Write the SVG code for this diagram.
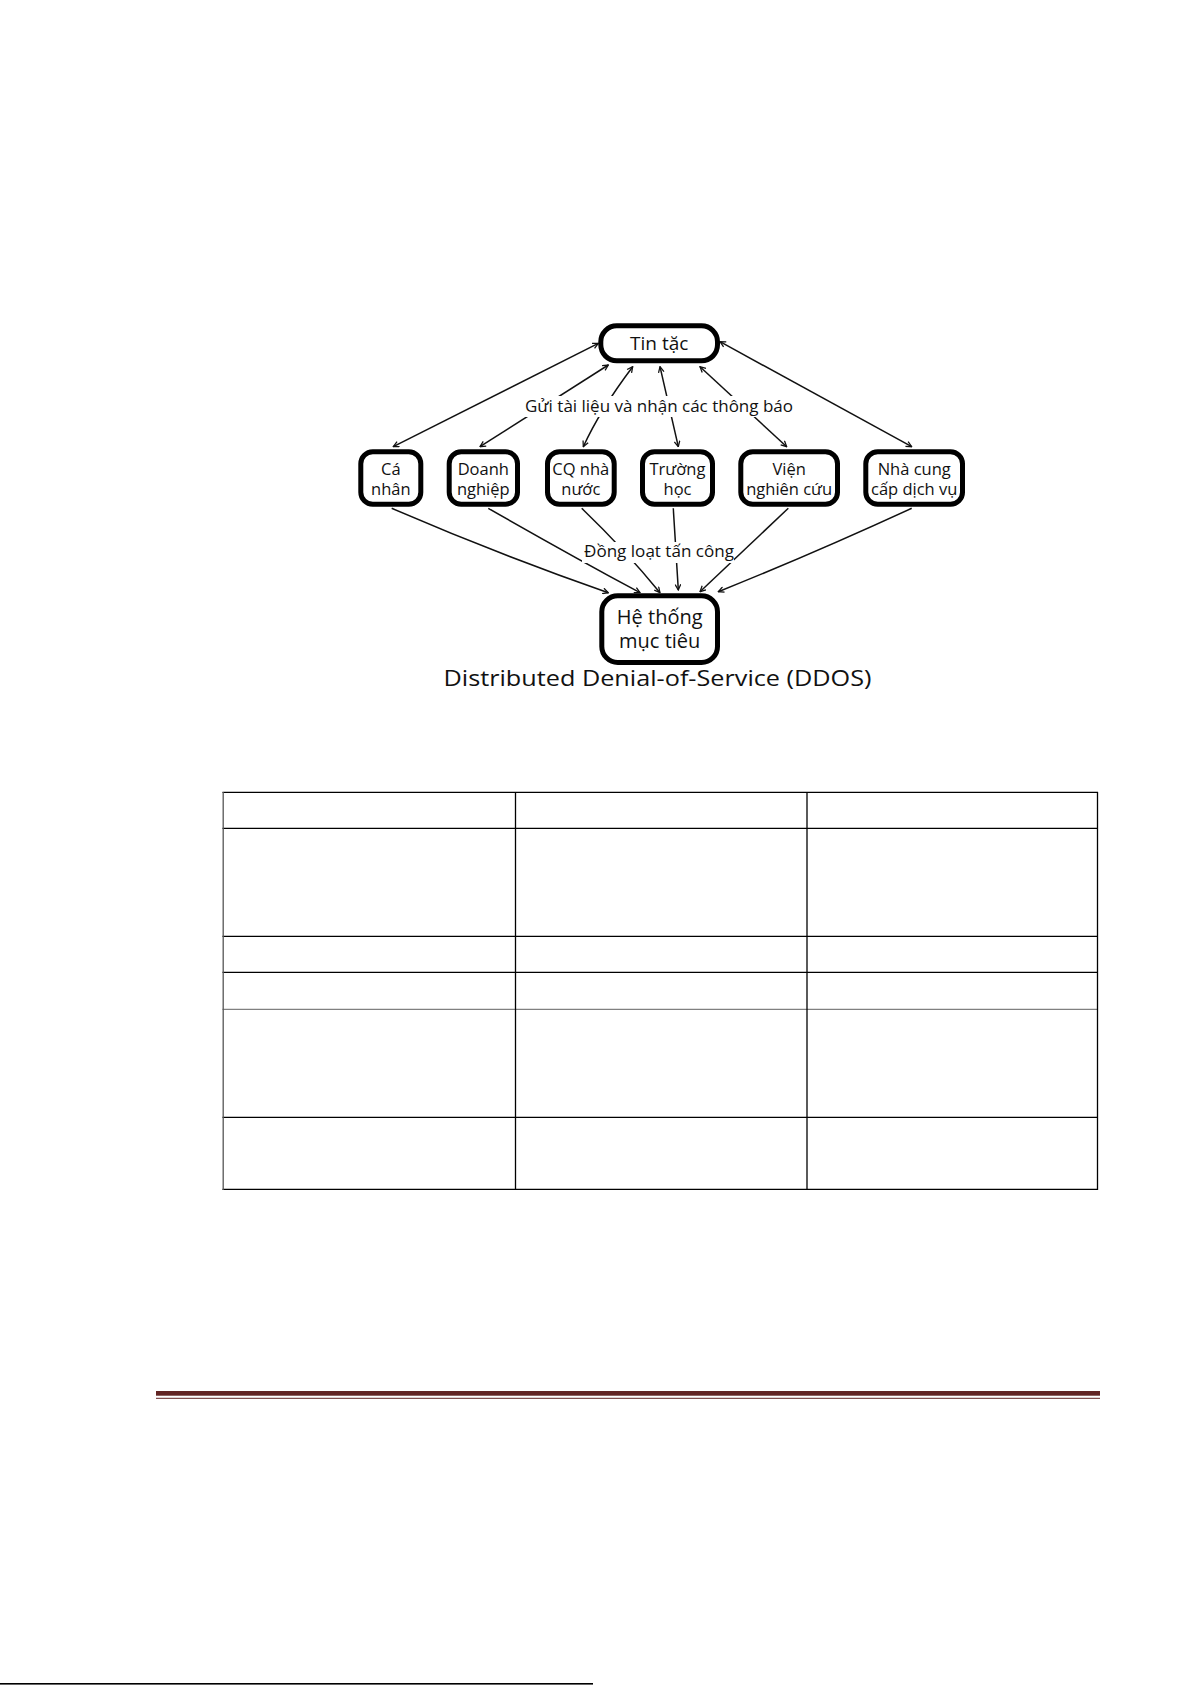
<svg xmlns="http://www.w3.org/2000/svg" width="1191" height="1685" viewBox="0 0 1191 1685">
<style>
  .box { fill: #fff; stroke: #000; stroke-width: 5; }
  .t { font-family: "Open Sans", "Noto Sans", sans-serif; fill: #111; text-anchor: middle; }
  .bt { font-size: 16.5px; }
  .conn { fill: none; stroke: #111; stroke-width: 1.5; }
  .tl { stroke: #000; stroke-width: 1.3; }
</style>
<defs>
  <marker id="ah" viewBox="0 0 10 10" refX="9" refY="5" markerWidth="7" markerHeight="7" orient="auto-start-reverse" markerUnits="userSpaceOnUse">
    <path d="M1,1 L9,5 L1,9" fill="none" stroke="#111" stroke-width="1.8"/>
  </marker>
</defs>
<rect width="1191" height="1685" fill="#fff"/>

<g id="connectors">
  <!-- Tin tac <-> row -->
  <line class="conn" x1="393.3" y1="446.7" x2="598.3" y2="343.3" marker-start="url(#ah)" marker-end="url(#ah)"/>
  <line class="conn" x1="480" y1="446.7" x2="608.3" y2="365" marker-start="url(#ah)" marker-end="url(#ah)"/>
  <path class="conn" d="M583.3,446.7 Q600,410 632.7,366.7" marker-start="url(#ah)" marker-end="url(#ah)"/>
  <line class="conn" x1="678.3" y1="446.7" x2="660" y2="366.7" marker-start="url(#ah)" marker-end="url(#ah)"/>
  <line class="conn" x1="786.7" y1="446.7" x2="700" y2="366.7" marker-start="url(#ah)" marker-end="url(#ah)"/>
  <line class="conn" x1="911.7" y1="446.7" x2="720" y2="341.7" marker-start="url(#ah)" marker-end="url(#ah)"/>
  <!-- row -> He thong -->
  <path class="conn" d="M391.7,508.3 Q500,555 608.3,592.7" marker-end="url(#ah)"/>
  <path class="conn" d="M488.3,508.3 Q570,555 640,592.7" marker-end="url(#ah)"/>
  <path class="conn" d="M581.7,508.3 Q625,550 660,592.7" marker-end="url(#ah)"/>
  <line class="conn" x1="673.3" y1="508.3" x2="678.3" y2="590" marker-end="url(#ah)"/>
  <line class="conn" x1="788.3" y1="508.3" x2="700" y2="591.7" marker-end="url(#ah)"/>
  <path class="conn" d="M911.7,508.3 Q810,555 718.3,591.7" marker-end="url(#ah)"/>
</g>

<g id="label-top">
  <rect x="523" y="396" width="272" height="21" fill="#fff"/>
  <text class="t" x="659" y="411.5" font-size="16px" textLength="268" lengthAdjust="spacingAndGlyphs">Gửi tài liệu và nhận các thông báo</text>
</g>
<g id="label-bottom">
  <rect x="582" y="542" width="152" height="21" fill="#fff"/>
  <text class="t" x="659" y="557.3" font-size="15.5px" textLength="150" lengthAdjust="spacingAndGlyphs">Đồng loạt tấn công</text>
</g>

<g id="node-tintac">
  <rect class="box" x="600.8" y="325.8" width="116.7" height="35" rx="16"/>
  <text class="t" x="659.2" y="350" font-size="19px">Tin tặc</text>
</g>
<g id="node-canhan">
  <rect class="box" x="360.8" y="451.8" width="60" height="52.4" rx="12"/>
  <text class="t bt" x="390.8" y="475">Cá</text>
  <text class="t bt" x="390.8" y="495">nhân</text>
</g>
<g id="node-doanhnghiep">
  <rect class="box" x="449.2" y="451.8" width="68.3" height="52.4" rx="12"/>
  <text class="t bt" x="483.3" y="475">Doanh</text>
  <text class="t bt" x="483.3" y="495">nghiệp</text>
</g>
<g id="node-cqnhanuoc">
  <rect class="box" x="547.5" y="451.8" width="66.7" height="52.4" rx="12"/>
  <text class="t bt" x="580.8" y="475">CQ nhà</text>
  <text class="t bt" x="580.8" y="495">nước</text>
</g>
<g id="node-truonghoc">
  <rect class="box" x="642.5" y="451.8" width="70" height="52.4" rx="12"/>
  <text class="t bt" x="677.5" y="475">Trường</text>
  <text class="t bt" x="677.5" y="495">học</text>
</g>
<g id="node-vien">
  <rect class="box" x="740.8" y="451.8" width="96.7" height="52.4" rx="12"/>
  <text class="t bt" x="789.2" y="475">Viện</text>
  <text class="t bt" x="789.2" y="495">nghiên cứu</text>
</g>
<g id="node-nhacungcap">
  <rect class="box" x="865.8" y="451.8" width="96.7" height="52.4" rx="12"/>
  <text class="t bt" x="914.2" y="475">Nhà cung</text>
  <text class="t bt" x="914.2" y="495">cấp dịch vụ</text>
</g>
<g id="node-hethong">
  <rect class="box" x="601.8" y="595.8" width="115.7" height="66.7" rx="16"/>
  <text class="t" x="659.7" y="624" font-size="20px">Hệ thống</text>
  <text class="t" x="659.7" y="648" font-size="20px">mục tiêu</text>
</g>
<text class="t" x="657.5" y="686" font-size="22.5px" textLength="428" lengthAdjust="spacingAndGlyphs">Distributed Denial-of-Service (DDOS)</text>

<g id="table">
  <line class="tl" x1="222.5" y1="792.3" x2="1098" y2="792.3"/>
  <line class="tl" x1="222.5" y1="828.3" x2="1098" y2="828.3"/>
  <line class="tl" x1="222.5" y1="936.3" x2="1098" y2="936.3"/>
  <line class="tl" x1="222.5" y1="972.3" x2="1098" y2="972.3"/>
  <line x1="222.5" y1="1009.3" x2="1098" y2="1009.3" stroke="#808080" stroke-width="1.3"/>
  <line class="tl" x1="222.5" y1="1117.3" x2="1098" y2="1117.3"/>
  <line class="tl" x1="222.5" y1="1189.3" x2="1098" y2="1189.3"/>
  <line x1="223.2" y1="792" x2="223.2" y2="1190" stroke="#555" stroke-width="1.3"/>
  <line class="tl" x1="515.5" y1="792" x2="515.5" y2="1190"/>
  <line class="tl" x1="807" y1="792" x2="807" y2="1190"/>
  <line class="tl" x1="1097.5" y1="792" x2="1097.5" y2="1190"/>
</g>

<g id="footer">
  <rect x="156" y="1391" width="944" height="4.7" fill="#622423"/>
  <rect x="156" y="1397.8" width="944" height="1" fill="#622423"/>
  <rect x="0" y="1683" width="593" height="1.6" fill="#000"/>
</g>
</svg>
